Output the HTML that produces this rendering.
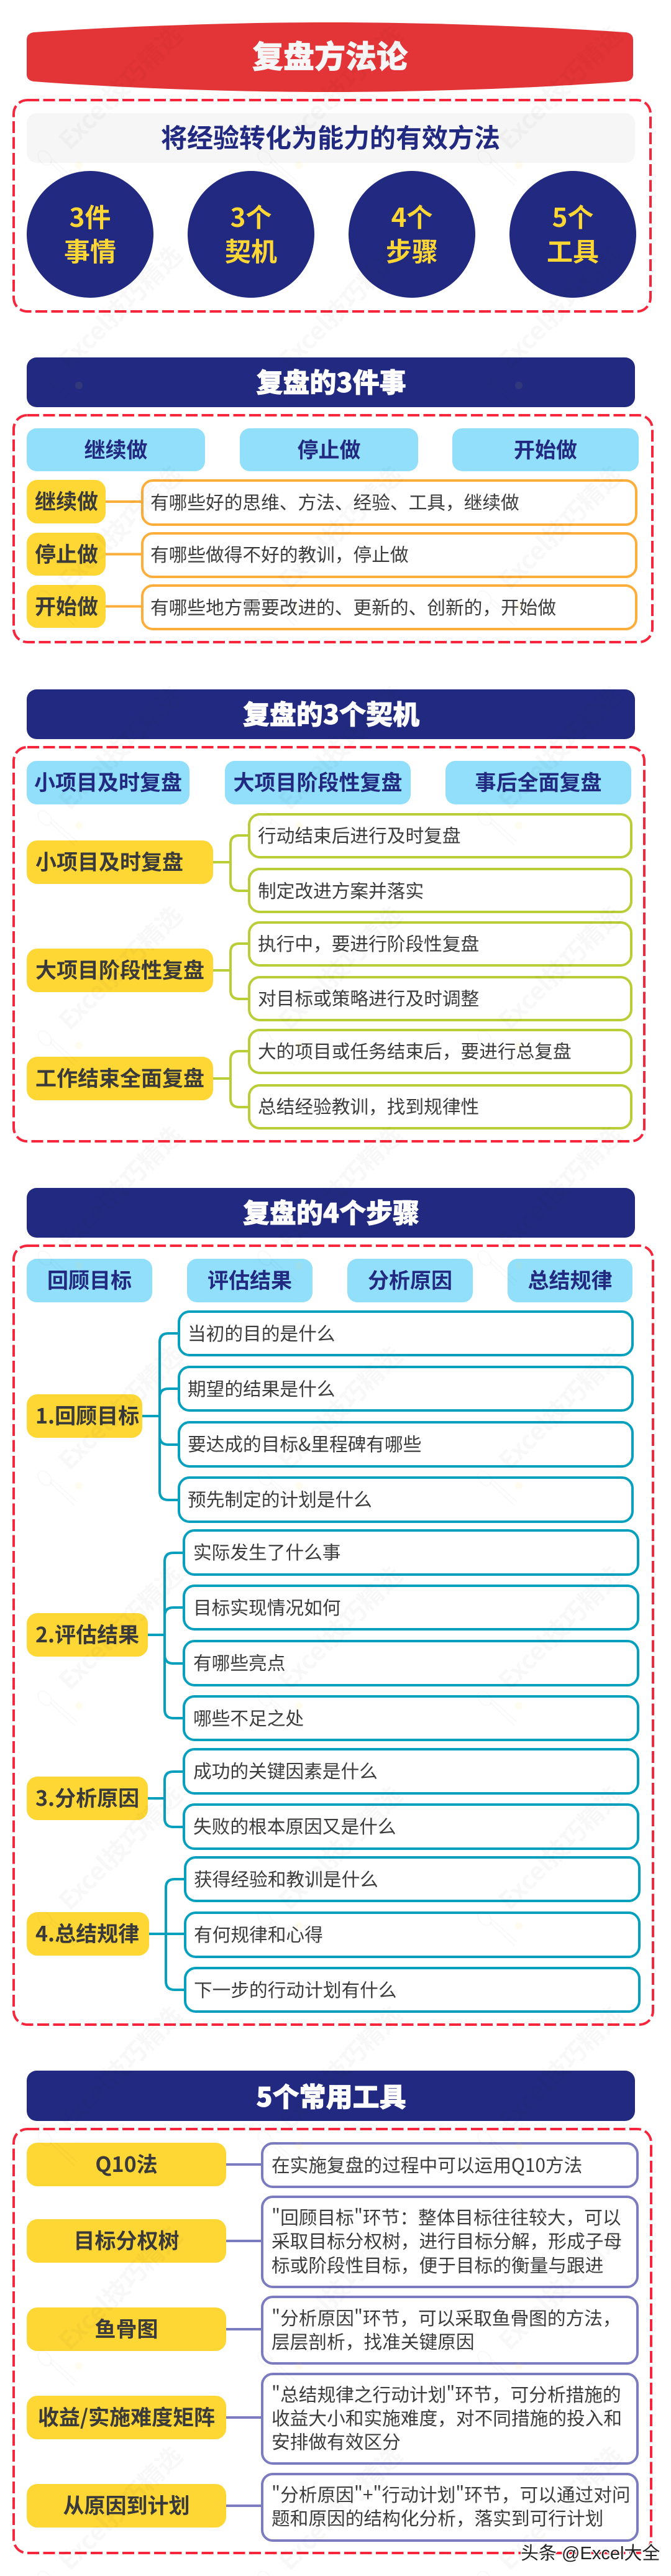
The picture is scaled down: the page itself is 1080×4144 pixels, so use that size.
<!DOCTYPE html>
<html lang="zh">
<head>
<meta charset="utf-8">
<title>复盘方法论</title>
<style>
html,body{margin:0;padding:0;background:#fff}
svg{display:block}
text{font-family:"Noto Sans CJK SC","Liberation Sans",sans-serif}
.hw{font-size:43px;font-weight:900;fill:#fff;text-anchor:middle;stroke:#fff;stroke-width:.8}
.bt{font-size:34px;font-weight:700;fill:#212a80;text-anchor:middle}
.yt{font-size:34px;font-weight:700;fill:#3a3a3a}
.ym{font-size:34px;font-weight:700;fill:#3a3a3a;text-anchor:middle}
.t{font-size:29.7px;fill:#3c3c3c}
.c{font-size:42px;font-weight:700;fill:#fed735;text-anchor:middle}
.d{fill:none;stroke:#f8263c;stroke-width:4;stroke-dasharray:19 6.5}
.bl{fill:#91dffb}
.ye{fill:#fed735}
.nv{fill:#212a80}
.o{fill:#fff;stroke:#fdad3a;stroke-width:4}
.g{fill:#fff;stroke:#b9cd37;stroke-width:4}
.b{fill:#fff;stroke:#06a0bf;stroke-width:4}
.p{fill:#fff;stroke:#7b7bc0;stroke-width:4}
.lo{fill:none;stroke:#fdad3a;stroke-width:4}
.lg{fill:none;stroke:#b9cd37;stroke-width:4}
.lb{fill:none;stroke:#06a0bf;stroke-width:4}
.lp{fill:none;stroke:#7b7bc0;stroke-width:4}
</style>
</head>
<body>
<svg xmlns="http://www.w3.org/2000/svg" width="1080" height="4144" viewBox="0 0 1080 4144">
<defs>
<pattern id="w" x="50" y="40" width="354" height="354" patternUnits="userSpaceOnUse">
<text x="62" y="203" transform="rotate(-45 62 203)" font-size="40" font-weight="700" fill="#000" fill-opacity=".028">Excel技巧精选</text>
<g fill="none" stroke="#000" stroke-opacity=".025" stroke-width="2">
<ellipse cx="22" cy="214" rx="9" ry="13" transform="rotate(-40 22 214)"/>
<path d="M30 220 L70 258 M34 216 L74 252"/>
</g>
<circle cx="77" cy="226" r="6" fill="#fed735" fill-opacity=".08"/>
</pattern>
</defs>

<!-- Title -->
<path d="M54 52 C200 42 380 36 531 36 C682 36 862 42 1008 52 Q1019 54 1019 64 V120 Q1019 129 1008 131 C862 142 682 148 531 148 C380 148 200 142 54 131 Q43 129 43 120 V64 Q43 54 54 52 Z" fill="#e33437"/>
<text x="531" y="109" font-size="50" font-weight="900" fill="#f7f7f7" stroke="#f7f7f7" stroke-width=".8" text-anchor="middle">复盘方法论</text>

<rect class="d" x="22" y="161" width="1025" height="340" rx="22"/>
<rect x="43" y="182" width="979" height="80" rx="16" fill="#f6f6f6"/>
<text x="532" y="237" font-size="42" font-weight="700" fill="#212a80" text-anchor="middle">将经验转化为能力的有效方法</text>

<circle class="nv" cx="145" cy="377" r="102"/>
<circle class="nv" cx="404" cy="377" r="102"/>
<circle class="nv" cx="663" cy="377" r="102"/>
<circle class="nv" cx="922" cy="377" r="102"/>
<text class="c" x="145" y="365">3件</text><text class="c" x="145" y="420">事情</text>
<text class="c" x="404" y="365">3个</text><text class="c" x="404" y="420">契机</text>
<text class="c" x="663" y="365">4个</text><text class="c" x="663" y="420">步骤</text>
<text class="c" x="922" y="365">5个</text><text class="c" x="922" y="420">工具</text>

<!-- Section 2 -->
<rect class="nv" x="43" y="575" width="979" height="80" rx="16"/>
<text class="hw" x="533" y="631">复盘的3件事</text>
<rect class="d" x="22" y="668" width="1028" height="365" rx="22"/>
<rect class="bl" x="43" y="689" width="287" height="69" rx="16"/>
<rect class="bl" x="386" y="689" width="287" height="69" rx="16"/>
<rect class="bl" x="728" y="689" width="300" height="69" rx="16"/>
<text class="bt" x="186.500" y="736">继续做</text>
<text class="bt" x="529.500" y="736">停止做</text>
<text class="bt" x="878" y="736">开始做</text>

<path class="lo" d="M170 807 H228 M170 891.500 H228 M170 975.500 H228"/>
<rect class="ye" x="43" y="772" width="127" height="70" rx="17"/>
<rect class="ye" x="43" y="857" width="127" height="69" rx="17"/>
<rect class="ye" x="43" y="941" width="127" height="69" rx="17"/>
<text class="ym" x="107" y="819">继续做</text>
<text class="ym" x="107" y="904">停止做</text>
<text class="ym" x="107" y="988">开始做</text>
<rect class="o" x="229" y="773" width="795" height="71" rx="17"/>
<rect class="o" x="229" y="858" width="795" height="70" rx="17"/>
<rect class="o" x="229" y="942" width="795" height="70" rx="17"/>
<text class="t" x="242" y="819">有哪些好的思维、方法、经验、工具，继续做</text>
<text class="t" x="242" y="903">有哪些做得不好的教训，停止做</text>
<text class="t" x="242" y="988">有哪些地方需要改进的、更新的、创新的，开始做</text>

<!-- Section 3 -->
<rect class="nv" x="43" y="1109" width="979" height="80" rx="16"/>
<text class="hw" x="533" y="1165">复盘的3个契机</text>
<rect class="d" x="22" y="1202" width="1015" height="634" rx="22"/>
<rect class="bl" x="43" y="1224" width="262" height="70" rx="16"/>
<rect class="bl" x="362" y="1224" width="299" height="70" rx="16"/>
<rect class="bl" x="717" y="1224" width="299" height="70" rx="16"/>
<text class="bt" x="174" y="1271">小项目及时复盘</text>
<text class="bt" x="511.500" y="1271">大项目阶段性复盘</text>
<text class="bt" x="866.500" y="1271">事后全面复盘</text>

<path class="lg" d="M343 1387 H371 M400 1344 H385 Q371 1344 371 1358 V1419 Q371 1433 385 1433 H400"/>
<path class="lg" d="M343 1561 H371 M400 1518 H385 Q371 1518 371 1532 V1593 Q371 1607 385 1607 H400"/>
<path class="lg" d="M343 1735 H371 M400 1691 H385 Q371 1691 371 1705 V1767 Q371 1781 385 1781 H400"/>
<rect class="ye" x="43" y="1352" width="300" height="70" rx="17"/>
<rect class="ye" x="43" y="1526" width="300" height="70" rx="17"/>
<rect class="ye" x="43" y="1700" width="300" height="70" rx="17"/>
<text class="yt" x="57" y="1399">小项目及时复盘</text>
<text class="yt" x="57" y="1573">大项目阶段性复盘</text>
<text class="yt" x="57" y="1747">工作结束全面复盘</text>
<rect class="g" x="401" y="1310" width="615" height="69" rx="17"/>
<rect class="g" x="401" y="1398" width="615" height="69" rx="17"/>
<rect class="g" x="401" y="1484" width="615" height="69" rx="17"/>
<rect class="g" x="401" y="1572" width="615" height="69" rx="17"/>
<rect class="g" x="401" y="1657" width="615" height="69" rx="17"/>
<rect class="g" x="401" y="1746" width="615" height="69" rx="17"/>
<text class="t" x="415" y="1355">行动结束后进行及时复盘</text>
<text class="t" x="415" y="1444">制定改进方案并落实</text>
<text class="t" x="415" y="1529">执行中，要进行阶段性复盘</text>
<text class="t" x="415" y="1617">对目标或策略进行及时调整</text>
<text class="t" x="415" y="1702">大的项目或任务结束后，要进行总复盘</text>
<text class="t" x="415" y="1791">总结经验教训，找到规律性</text>

<!-- Section 4 -->
<rect class="nv" x="43" y="1911" width="979" height="80" rx="16"/>
<text class="hw" x="533" y="1967">复盘的4个步骤</text>
<rect class="d" x="22" y="2004" width="1029" height="1253" rx="22"/>
<rect class="bl" x="43" y="2025" width="202" height="70" rx="16"/>
<rect class="bl" x="301" y="2025" width="202" height="70" rx="16"/>
<rect class="bl" x="559" y="2025" width="202" height="70" rx="16"/>
<rect class="bl" x="817" y="2025" width="201" height="70" rx="16"/>
<text class="bt" x="144" y="2072">回顾目标</text>
<text class="bt" x="402" y="2072">评估结果</text>
<text class="bt" x="660" y="2072">分析原因</text>
<text class="bt" x="917.500" y="2072">总结规律</text>

<path class="lb" d="M229 2278 H257 M287 2145 H271 Q257 2145 257 2159 V2399 Q257 2413 271 2413 H287 M287 2234 H271 Q257 2234 257 2248 M257 2310 Q257 2324 271 2324 H287"/>
<path class="lb" d="M238 2630 H265 M295 2498 H279 Q265 2498 265 2512 V2750 Q265 2764 279 2764 H295 M295 2586 H279 Q265 2586 265 2600 M265 2662 Q265 2676 279 2676 H295"/>
<path class="lb" d="M238 2893 H265 M295 2850 H279 Q265 2850 265 2864 V2925 Q265 2939 279 2939 H295"/>
<path class="lb" d="M240 3111 H297 M297 3023 H281 Q267 3023 267 3037 V3187 Q267 3201 281 3201 H297"/>

<rect class="ye" x="43" y="2243" width="186" height="70" rx="17"/>
<rect class="ye" x="43" y="2595" width="195" height="70" rx="17"/>
<rect class="ye" x="43" y="2858" width="195" height="70" rx="17"/>
<rect class="ye" x="43" y="3076" width="197" height="70" rx="17"/>
<text class="yt" x="57" y="2290">1.回顾目标</text>
<text class="yt" x="57" y="2642">2.评估结果</text>
<text class="yt" x="57" y="2905">3.分析原因</text>
<text class="yt" x="57" y="3123">4.总结规律</text>

<rect class="b" x="288" y="2110" width="730" height="70" rx="17"/>
<rect class="b" x="288" y="2199" width="730" height="70" rx="17"/>
<rect class="b" x="288" y="2288" width="730" height="71" rx="17"/>
<rect class="b" x="288" y="2377" width="730" height="71" rx="17"/>
<rect class="b" x="296" y="2462" width="731" height="71" rx="17"/>
<rect class="b" x="296" y="2551" width="731" height="70" rx="17"/>
<rect class="b" x="296" y="2640" width="731" height="71" rx="17"/>
<rect class="b" x="296" y="2729" width="731" height="70" rx="17"/>
<rect class="b" x="296" y="2814" width="731" height="71" rx="17"/>
<rect class="b" x="296" y="2903" width="731" height="71" rx="17"/>
<rect class="b" x="298" y="2988" width="731" height="70" rx="17"/>
<rect class="b" x="298" y="3077" width="731" height="71" rx="17"/>
<rect class="b" x="298" y="3166" width="731" height="70" rx="17"/>

<text class="t" x="302" y="2156">当初的目的是什么</text>
<text class="t" x="302" y="2245">期望的结果是什么</text>
<text class="t" x="302" y="2334">要达成的目标&amp;里程碑有哪些</text>
<text class="t" x="302" y="2423">预先制定的计划是什么</text>
<text class="t" x="311" y="2508">实际发生了什么事</text>
<text class="t" x="311" y="2597">目标实现情况如何</text>
<text class="t" x="311" y="2686">有哪些亮点</text>
<text class="t" x="311" y="2775">哪些不足之处</text>
<text class="t" x="311" y="2860">成功的关键因素是什么</text>
<text class="t" x="311" y="2949">失败的根本原因又是什么</text>
<text class="t" x="312" y="3034">获得经验和教训是什么</text>
<text class="t" x="312" y="3123">有何规律和心得</text>
<text class="t" x="312" y="3212">下一步的行动计划有什么</text>

<!-- Section 5 -->
<rect class="nv" x="43" y="3331" width="979" height="81" rx="16"/>
<text class="hw" x="533" y="3389">5个常用工具</text>
<rect class="d" x="22" y="3425" width="1026" height="682" rx="22"/>
<path class="lp" d="M364 3482 H421 M364 3605 H421 M364 3747 H421 M364 3889 H421 M364 4031 H421"/>
<rect class="ye" x="43" y="3447" width="321" height="70" rx="17"/>
<rect class="ye" x="43" y="3570" width="321" height="70" rx="17"/>
<rect class="ye" x="43" y="3712" width="321" height="70" rx="17"/>
<rect class="ye" x="43" y="3854" width="321" height="70" rx="17"/>
<rect class="ye" x="43" y="3996" width="321" height="70" rx="17"/>
<text class="ym" x="203.500" y="3494">Q10法</text>
<text class="ym" x="203.500" y="3617">目标分权树</text>
<text class="ym" x="203.500" y="3759">鱼骨图</text>
<text class="ym" x="203.500" y="3901">收益/实施难度矩阵</text>
<text class="ym" x="203.500" y="4043">从原因到计划</text>

<rect class="p" x="422" y="3448" width="604" height="70" rx="17"/>
<rect class="p" x="422" y="3534" width="604" height="145" rx="17"/>
<rect class="p" x="422" y="3695" width="604" height="107" rx="17"/>
<rect class="p" x="422" y="3819" width="604" height="144" rx="17"/>
<rect class="p" x="422" y="3980" width="604" height="107" rx="17"/>

<text class="t" x="437" y="3494">在实施复盘的过程中可以运用Q10方法</text>
<text class="t" x="437" y="3578">"回顾目标"环节：整体目标往往较大，可以</text>
<text class="t" x="437" y="3616">采取目标分权树，进行目标分解，形成子母</text>
<text class="t" x="437" y="3655">标或阶段性目标，便于目标的衡量与跟进</text>
<text class="t" x="437" y="3740">"分析原因"环节，可以采取鱼骨图的方法，</text>
<text class="t" x="437" y="3778">层层剖析，找准关键原因</text>
<text class="t" x="437" y="3863">"总结规律之行动计划"环节，可分析措施的</text>
<text class="t" x="437" y="3901">收益大小和实施难度，对不同措施的投入和</text>
<text class="t" x="437" y="3939">安排做有效区分</text>
<text class="t" x="437" y="4024">"分析原因"+"行动计划"环节，可以通过对问</text>
<text class="t" x="437" y="4062">题和原因的结构化分析，落实到可行计划</text>

<!-- Watermark overlay -->
<rect x="0" y="0" width="1080" height="4144" fill="url(#w)"/>

<text x="838" y="4117" font-size="29" fill="#222" stroke="#fff" stroke-width="3" paint-order="stroke" style="font-family:'Liberation Sans','Noto Sans CJK SC',sans-serif">头条 @Excel大全</text>
</svg>
</body>
</html>
